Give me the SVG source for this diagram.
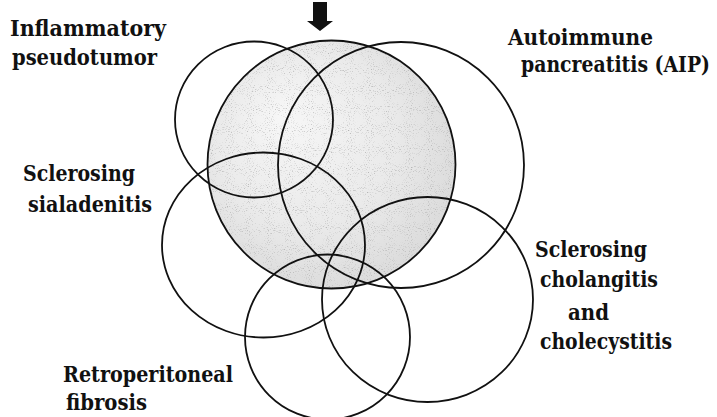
<svg xmlns="http://www.w3.org/2000/svg" width="717" height="417" viewBox="0 0 717 417">
  <style>
    .ring { fill: none; stroke: #111; stroke-width: 1.8; }
    .lbl { font-family: "DejaVu Serif", "Liberation Serif", serif; font-weight: bold; font-size: 23px; fill: #111; }
  </style>
  <defs>
    <radialGradient id="shade" cx="0.45" cy="0.45" r="0.6" fx="0.3" fy="0.3">
      <stop offset="0" stop-color="#f7f7f7"/>
      <stop offset="0.6" stop-color="#eaeaea"/>
      <stop offset="1" stop-color="#dadada"/>
    </radialGradient>
    <filter id="stipple" x="0" y="0" width="1" height="1">
      <feTurbulence type="fractalNoise" baseFrequency="0.95" numOctaves="1" seed="7" result="n"/>
      <feColorMatrix in="n" type="matrix" values="0 0 0 0 0.45  0 0 0 0 0.45  0 0 0 0 0.45  -4 0 0 0 1.7" result="dots"/>
      <feComposite in="dots" in2="SourceGraphic" operator="in" result="d2"/>
      <feMerge>
        <feMergeNode in="SourceGraphic"/>
        <feMergeNode in="d2"/>
      </feMerge>
    </filter>
  </defs>
  <rect width="717" height="417" fill="#fff"/>

  <g id="shaded-region">
    <circle cx="331.5" cy="164.5" r="124" fill="url(#shade)" filter="url(#stipple)"/>
  </g>

  <g id="inflammatory-pseudotumor">
    <ellipse class="ring" cx="254" cy="119.5" rx="79" ry="78"/>
    <text class="lbl" x="10" y="35.5" textLength="156" lengthAdjust="spacingAndGlyphs">Inflammatory</text>
    <text class="lbl" x="12" y="65" textLength="145" lengthAdjust="spacingAndGlyphs">pseudotumor</text>
  </g>

  <g id="central-circle">
    <circle class="ring" cx="331.5" cy="164.5" r="124"/>
  </g>

  <g id="autoimmune-pancreatitis">
    <circle class="ring" cx="401" cy="165" r="123"/>
    <text class="lbl" x="508" y="45" textLength="145" lengthAdjust="spacingAndGlyphs">Autoimmune</text>
    <text class="lbl" transform="translate(521,72) scale(0.84,1)" x="0" y="0" textLength="225" lengthAdjust="spacingAndGlyphs">pancreatitis (AIP)</text>
  </g>

  <g id="sclerosing-sialadenitis">
    <ellipse class="ring" cx="263.5" cy="245" rx="101.5" ry="92.5"/>
    <text class="lbl" x="23" y="180.5" textLength="112" lengthAdjust="spacingAndGlyphs">Sclerosing</text>
    <text class="lbl" x="28" y="212" textLength="124" lengthAdjust="spacingAndGlyphs">sialadenitis</text>
  </g>

  <g id="sclerosing-cholangitis">
    <ellipse class="ring" cx="427.5" cy="299.5" rx="105.5" ry="102.5"/>
    <text class="lbl" x="535" y="256.5" textLength="112" lengthAdjust="spacingAndGlyphs">Sclerosing</text>
    <text class="lbl" x="540" y="286.5" textLength="118" lengthAdjust="spacingAndGlyphs">cholangitis</text>
    <text class="lbl" x="568" y="320" textLength="41" lengthAdjust="spacingAndGlyphs">and</text>
    <text class="lbl" x="540" y="349" textLength="132" lengthAdjust="spacingAndGlyphs">cholecystitis</text>
  </g>

  <g id="retroperitoneal-fibrosis">
    <circle class="ring" cx="327.5" cy="337" r="82.5"/>
    <text class="lbl" x="63" y="381.5" textLength="170" lengthAdjust="spacingAndGlyphs">Retroperitoneal</text>
    <text class="lbl" x="66" y="410" textLength="81" lengthAdjust="spacingAndGlyphs">fibrosis</text>
  </g>

  <g id="connectors">
    <path id="arrow" d="M313,2 H327 V21 H333 L320,31 L307,21 H313 Z" fill="#111"/>
  </g>
</svg>
